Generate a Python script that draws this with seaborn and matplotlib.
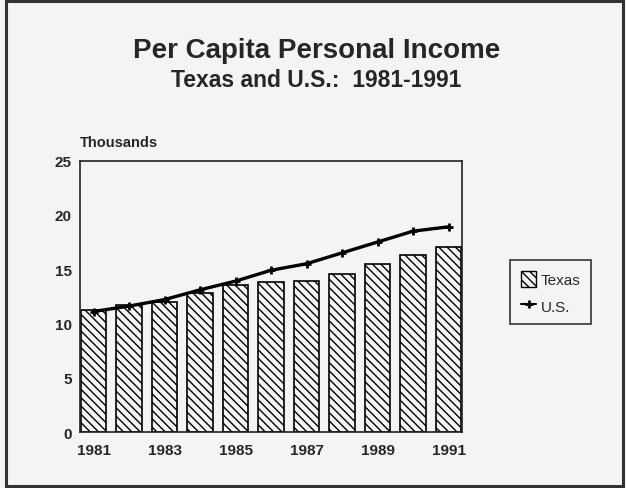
import numpy as np
import pandas as pd
import matplotlib.pyplot as plt
import seaborn as sns
from matplotlib.patches import Patch, Rectangle
from matplotlib.lines import Line2D

# Datos (miles de dolares)
years = ['1981', '1982', '1983', '1984', '1985', '1986', '1987', '1988', '1989', '1990', '1991']
texas = [11.2, 11.7, 12.0, 12.8, 13.5, 13.8, 13.9, 14.6, 15.5, 16.3, 17.0]
us = [11.1, 11.6, 12.2, 13.1, 13.9, 14.9, 15.5, 16.5, 17.5, 18.5, 18.9]
tick_years = ['1981', '', '1983', '', '1985', '', '1987', '', '1989', '', '1991']
y_ticks = [0, 5, 10, 15, 20, 25]

df = pd.DataFrame({'Year': years, 'Texas': texas, 'US': us})

sns.set_style('white')
plt.rcParams['font.family'] = ['Liberation Sans', 'DejaVu Sans']
plt.rcParams['hatch.linewidth'] = 1.0

bg = '#f3f5f4'
fig = plt.figure(figsize=(6.26, 4.89), dpi=100, facecolor=bg)
# marco exterior del grafico
fig.add_artist(Rectangle((0.01, 0.004), 0.986, 0.992, transform=fig.transFigure,
                         fill=False, edgecolor='#333333', linewidth=2.2))
ax = fig.add_axes([0.128, 0.1145, 0.61, 0.555])
ax.set_facecolor(bg)

sns.barplot(data=df, x='Year', y='Texas', color='white', edgecolor='black',
            linewidth=1.2, width=0.72, ax=ax, saturation=1)
for bar in ax.patches:
    bar.set_hatch('\\\\\\\\')
    bar.set_facecolor(bg)

sns.pointplot(data=df, x='Year', y='US', color='black', markers='+',
              markersize=6, linewidth=2.4, ax=ax)
for ln in ax.lines:
    ln.set_markeredgewidth(2)

ax.set_ylim(0, 25)
ax.set_xlim(-0.38, len(years) - 0.62)
ax.set_yticks(y_ticks)
ax.set_yticklabels([str(t) for t in y_ticks], fontweight='bold', fontsize=11)
ax.set_xticks(range(len(years)))
ax.set_xticklabels(tick_years, fontweight='bold', fontsize=11)
ax.tick_params(axis='x', length=0, pad=8)
ax.tick_params(axis='y', length=0, pad=6)
ax.set_xlabel('')
ax.set_ylabel('')
for s in ax.spines.values():
    s.set_color('#222222')
    s.set_linewidth(1.2)

fig.text(0.505, 0.882, 'Per Capita Personal Income', ha='center', fontsize=20, fontweight='bold')
fig.text(0.505, 0.823, 'Texas and U.S.:  1981-1991', ha='center', fontsize=16.5, fontweight='bold')
fig.text(0.128, 0.70, 'Thousands', ha='left', fontsize=10.5, fontweight='bold')

handles = [Patch(facecolor=bg, edgecolor='black', hatch='\\\\\\\\', label='Texas'),
           Line2D([0], [0], color='black', marker='+', markersize=6, mew=2, lw=1.5, label='U.S.')]
leg = fig.legend(handles=handles, loc='center', bbox_to_anchor=(0.88, 0.4),
                 frameon=True, fancybox=False, fontsize=11, handlelength=1.0,
                 handleheight=1.2, handletextpad=0.3, borderpad=0.7, labelspacing=0.7)
leg.get_frame().set_edgecolor('black')
leg.get_frame().set_facecolor(bg)
leg.get_frame().set_linewidth(1.2)

plt.savefig('out.png', dpi=100, facecolor=bg)
